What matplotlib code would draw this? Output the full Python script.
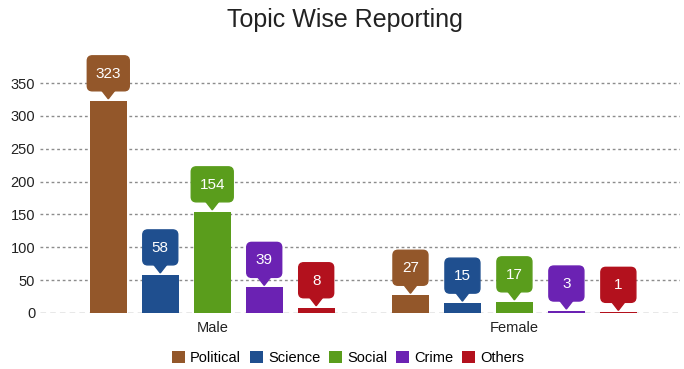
import matplotlib.pyplot as plt
import matplotlib.patches as mpatches
import matplotlib.transforms as mtransforms
import numpy as np

plt.rcParams['font.family'] = ['Liberation Sans', 'DejaVu Sans']

# Reporting counts per topic, split by gender
groups = ["Male", "Female"]
topics = ["Political", "Science", "Social", "Crime", "Others"]
political = [323, 27]
science = [58, 15]
social = [154, 17]
crime = [39, 3]
others = [8, 1]
series = [political, science, social, crime, others]
colors = ["#93572a", "#1f4f8f", "#5a9d1c", "#6b22b3", "#b3111d"]

fig = plt.figure(figsize=(6.84, 3.69), dpi=100)
ax = fig.add_axes([40 / 684, 56 / 369, 640 / 684, 236.5 / 369])

x = np.arange(len(groups))
step = 0.172
width = 0.1225

ax.set_xlim(-0.57, 1.548)
ax.set_ylim(0, 360)

# grid lines
for y in range(50, 351, 50):
    ax.axhline(y, color="#8c8c8c", lw=1, ls=(0, (2, 2)), zorder=0)
ax.axhline(0, color="#8c8c8c", lw=1, ls=(0, (4, 3)), zorder=0)

for i, (vals, col) in enumerate(zip(series, colors)):
    xs = x + (i - 2) * step
    ax.bar(xs, vals, width=width, color=col, zorder=2, label=topics[i])
    for xv, v in zip(xs, vals):
        # callout box in pixel units anchored at the bar top
        tr = mtransforms.Affine2D() + mtransforms.ScaledTranslation(xv, v, ax.transData)
        w = 42 if len(str(v)) >= 3 else 35
        box = mpatches.FancyBboxPatch((-w / 2 + 5, 15), w - 10, 25,
                                      boxstyle="round,pad=5", fc=col, ec=col,
                                      lw=1, transform=tr, clip_on=False, zorder=3)
        ax.add_patch(box)
        tri = mpatches.Polygon([(-7, 11), (7, 11), (0, 2)], closed=True,
                               fc=col, ec=col, transform=tr, clip_on=False, zorder=3)
        ax.add_patch(tri)
        ax.text(0, 27, str(v), transform=tr, ha="center", va="center",
                color="white", fontsize=11, zorder=4)

ax.set_xticks(x)
ax.set_xticklabels(groups, fontsize=10.5)
ax.set_yticks(range(0, 351, 50))
ax.tick_params(axis="both", length=0, labelsize=10.5, colors="#222222")
ax.tick_params(axis="x", pad=6)
for s in ax.spines.values():
    s.set_visible(False)

fig.suptitle("Topic Wise Reporting", x=345 / 684, y=1 - 20 / 369, va="center",
             fontsize=18, color="#222222")

fig.legend(loc="center", bbox_to_anchor=(348 / 684, 1 - 358 / 369), ncol=5,
           frameon=False, fontsize=10.5, handlelength=0.9, handleheight=0.9,
           handletextpad=0.35, columnspacing=0.6)

fig.savefig("out.png", dpi=100)
